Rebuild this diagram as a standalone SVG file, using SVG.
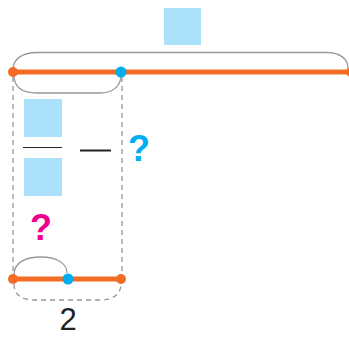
<svg xmlns="http://www.w3.org/2000/svg" width="349" height="337" viewBox="0 0 349 337">
<style>
.box{fill:#abe1fa}
.line{stroke:#f26c24;stroke-width:5;fill:none}
.odot{fill:#f26c24}
.bdot{fill:#00aeef}
.brace{fill:none;stroke:#999;stroke-width:1.3}
.dash{fill:none;stroke:#999;stroke-width:1.3;stroke-dasharray:5 4}
.q{font-family:"Liberation Sans",Arial,sans-serif;font-weight:bold;font-size:36px;text-anchor:middle}
</style>
<rect width="349" height="337" fill="#fff"/>
<g id="top-box"><rect class="box" x="164" y="8" width="37" height="37"/></g>
<g id="connectors">
<path class="brace" d="M13,70 C13,59 22,52.5 37,52.5 L327,52.5 C340,52.5 348,59 348,68"/>
<path class="brace" d="M14,75 C14,87 22,93 37,93 L100,93 C113,93 121,86 121,75"/>
<path class="dash" d="M13,77 L13,272"/>
<path class="dash" d="M122,77 L122,272"/>
<path class="brace" d="M14,275 C14,262 26,257 41,257 C56,257 67,263 67,273"/>
<path class="dash" d="M14,284 C14,295 22,300 34,300 L101,300 C113,300 121,294 121,284"/>
</g>
<g id="top-line">
<line class="line" x1="13" y1="72" x2="349" y2="72"/>
<circle class="odot" cx="13" cy="72" r="5"/>
<circle class="odot" cx="351" cy="72" r="5"/>
<circle class="bdot" cx="121" cy="72" r="5.5"/>
</g>
<g id="fraction">
<rect class="box" x="24" y="99" width="38" height="38"/>
<line x1="23" y1="147.5" x2="62" y2="147.5" stroke="#222" stroke-width="1.2"/>
<rect class="box" x="24" y="158" width="38" height="38"/>
</g>
<g id="minus"><line x1="80" y1="150.5" x2="111" y2="150.5" stroke="#222" stroke-width="2"/></g>
<g id="blue-q"><text class="q" x="139" y="161" fill="#00aeef">?</text></g>
<g id="pink-q"><text class="q" x="41" y="240" fill="#ec008c">?</text></g>
<g id="bottom-line">
<line class="line" x1="13" y1="279" x2="121" y2="279"/>
<circle class="odot" cx="13" cy="279" r="5"/>
<circle class="odot" cx="121" cy="279" r="5"/>
<circle class="bdot" cx="68" cy="279" r="5.5"/>
</g>
<g id="label-2"><text x="68" y="330" font-family="'Liberation Sans',Arial,sans-serif" font-size="31" text-anchor="middle" fill="#222">2</text></g>
</svg>
